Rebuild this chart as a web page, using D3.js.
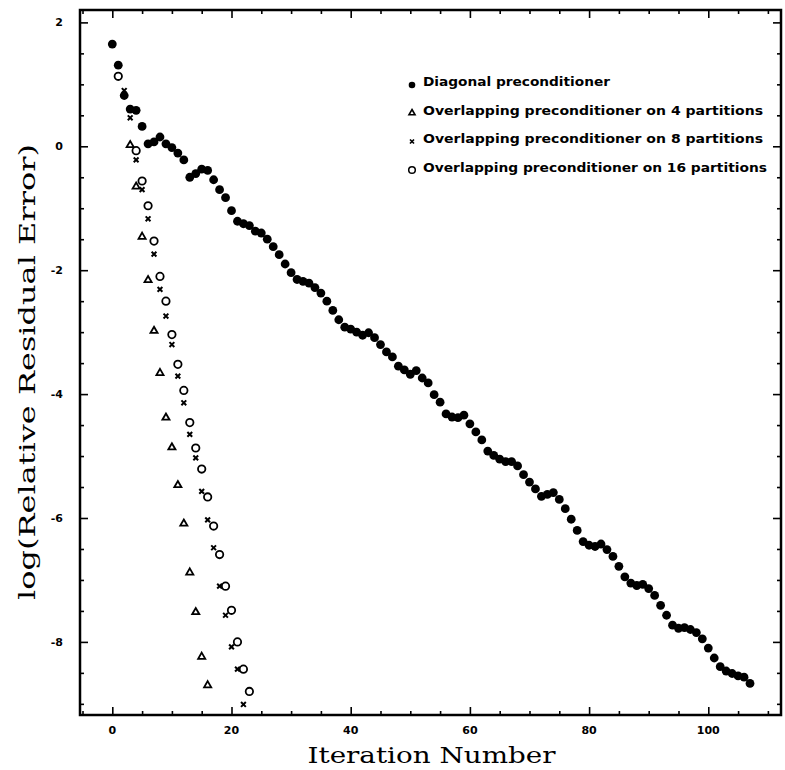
<!DOCTYPE html>
<html lang="en">
<head>
  <meta charset="utf-8">
  <title>Residual error</title>
  <script type="text/javascript" src="https://d3js.org/d3.v7.min.js"></script>
  <style type="text/css">
    body { margin: 0; background: #fff; overflow: hidden; }
    svg { display: block; }
    .tickLabel { font-family: "DejaVu Sans", sans-serif; font-weight: bold; font-size: 11px; }
    .axisTitle { font-family: "DejaVu Serif", serif; font-size: 23px; }
    .legendText { font-family: "DejaVu Sans", sans-serif; font-weight: bold; font-size: 13px; }
    .axis path { display: none; }
    .axis line { stroke: #000; stroke-width: 1.6; }
  </style>
</head>
<body>
  <script type="text/javascript">
  // values indexed by iteration number (0, 1, 2, ...); null = hidden under a diagonal dot
  var diagonal = [1.65, 1.31, 0.82, 0.60, 0.58, 0.32, 0.04, 0.07, 0.15, 0.04,
    -0.02, -0.11, -0.22, -0.50, -0.44, -0.37, -0.39, -0.54, -0.70, -0.83,
    -1.04, -1.21, -1.25, -1.28, -1.37, -1.40, -1.50, -1.62, -1.75, -1.90,
    -2.04, -2.15, -2.18, -2.21, -2.28, -2.37, -2.50, -2.65, -2.80, -2.92,
    -2.95, -3.00, -3.05, -3.01, -3.09, -3.20, -3.32, -3.40, -3.55, -3.61,
    -3.68, -3.62, -3.74, -3.82, -4.01, -4.13, -4.32, -4.37, -4.38, -4.34,
    -4.48, -4.61, -4.74, -4.92, -4.99, -5.05, -5.09, -5.09, -5.16, -5.30,
    -5.42, -5.53, -5.65, -5.62, -5.59, -5.70, -5.85, -6.02, -6.20, -6.38,
    -6.44, -6.46, -6.42, -6.51, -6.62, -6.78, -6.95, -7.05, -7.09, -7.07,
    -7.14, -7.25, -7.41, -7.57, -7.73, -7.78, -7.77, -7.80, -7.85, -7.95,
    -8.10, -8.26, -8.40, -8.47, -8.51, -8.55, -8.57, -8.67];
  var overlap4 = [null, null, null, 0.02, -0.65, -1.46, -2.16, -2.98, -3.66, -4.38,
    -4.86, -5.47, -6.09, -6.88, -7.52, -8.24, -8.70];
  var overlap8 = [null, null, 0.90, 0.46, -0.22, -0.70, -1.17, -1.74, -2.31, -2.74,
    -3.20, -3.71, -4.14, -4.65, -5.03, -5.57, -6.03, -6.48, -7.10, -7.57,
    -8.08, -8.44, -9.01];
  var overlap16 = [null, 1.13, null, null, -0.07, -0.56, -0.96, -1.53, -2.10, -2.50,
    -3.04, -3.52, -3.94, -4.46, -4.87, -5.21, -5.66, -6.13, -6.59, -7.10,
    -7.49, -8.00, -8.44, -8.80];

  var legendLabels = ["Diagonal preconditioner",
    "Overlapping preconditioner on 4 partitions",
    "Overlapping preconditioner on 8 partitions",
    "Overlapping preconditioner on 16 partitions"];
  var legendWidths = [187, 340, 340, 344];
  var xTicks = [0, 20, 40, 60, 80, 100];
  var yTicks = [2, 0, -2, -4, -6, -8];

  var w = 785, h = 770;
  var plotLeft = 80, plotRight = 781, plotTop = 10, plotBottom = 715;

  var svg = d3.select("body").append("svg")
    .attr("width", w).attr("height", h);

  var xScale = d3.scaleLinear().domain([-5.42, 112.2]).range([plotLeft, plotRight]);
  var yScale = d3.scaleLinear().domain([-9.18, 2.2]).range([plotBottom, plotTop]);

  var xMinor = d3.range(-5, 113, 5).filter(function(v) { return v % 20 != 0; });
  var yMinor = d3.range(-9, 2.01, 0.5).filter(function(v) { return v % 2 != 0; });

  // pairs of [iteration, value], skipping hidden points
  function points(arr) {
    return arr.map(function(v, i) { return [i, v]; })
              .filter(function(p) { return p[1] !== null; });
  }

  // ticks on all four sides, pointing inward
  function addAxis(axisFn, scale, values, size, tx, ty) {
    svg.append("g").attr("class", "axis")
      .attr("transform", "translate(" + tx + "," + ty + ")")
      .call(axisFn(scale).tickValues(values).tickSize(size).tickFormat(""));
  }
  addAxis(d3.axisBottom, xScale, xTicks, -8, 0, plotBottom);
  addAxis(d3.axisBottom, xScale, xMinor, -4, 0, plotBottom);
  addAxis(d3.axisTop, xScale, xTicks, -8, 0, plotTop);
  addAxis(d3.axisTop, xScale, xMinor, -4, 0, plotTop);
  addAxis(d3.axisLeft, yScale, yTicks, -8, plotLeft, 0);
  addAxis(d3.axisLeft, yScale, yMinor, -4, plotLeft, 0);
  addAxis(d3.axisRight, yScale, yTicks, -8, plotRight, 0);
  addAxis(d3.axisRight, yScale, yMinor, -4, plotRight, 0);

  svg.append("rect")
    .attr("x", plotLeft).attr("y", plotTop)
    .attr("width", plotRight - plotLeft).attr("height", plotBottom - plotTop)
    .attr("fill", "none").attr("stroke", "#000").attr("stroke-width", 2.5);

  svg.selectAll(".xLabel").data(xTicks).enter().append("text")
    .attr("class", "tickLabel")
    .attr("x", function(d) { return xScale(d); })
    .attr("y", plotBottom + 19)
    .attr("text-anchor", "middle")
    .text(function(d) { return d; });

  svg.selectAll(".yLabel").data(yTicks).enter().append("text")
    .attr("class", "tickLabel")
    .attr("x", plotLeft - 17)
    .attr("y", function(d) { return yScale(d) + 4; })
    .attr("text-anchor", "end")
    .text(function(d) { return d; });

  svg.append("text").attr("class", "axisTitle")
    .attr("x", (plotLeft + plotRight) / 2 + 1).attr("y", 763)
    .attr("text-anchor", "middle")
    .attr("textLength", 248).attr("lengthAdjust", "spacingAndGlyphs")
    .text("Iteration Number");

  svg.append("text").attr("class", "axisTitle")
    .attr("transform", "translate(35,372) rotate(-90)")
    .attr("text-anchor", "middle")
    .attr("textLength", 456).attr("lengthAdjust", "spacingAndGlyphs")
    .text("log(Relative Residual Error)");

  // marker drawers
  var tri = d3.symbol().type(d3.symbolTriangle);
  function place(p) { return "translate(" + xScale(p[0]) + "," + yScale(p[1]) + ")"; }

  svg.append("g").selectAll("path").data(points(overlap4)).enter().append("path")
    .attr("transform", place)
    .attr("d", tri.size(22)())
    .attr("fill", "none").attr("stroke", "#000").attr("stroke-width", 1.8);

  var cr = 2.4;
  svg.append("g").selectAll("path").data(points(overlap8)).enter().append("path")
    .attr("transform", place)
    .attr("d", "M" + (-cr) + "," + (-cr) + "L" + cr + "," + cr + "M" + (-cr) + "," + cr + "L" + cr + "," + (-cr))
    .attr("stroke", "#000").attr("stroke-width", 2);

  svg.append("g").selectAll("circle").data(points(overlap16)).enter().append("circle")
    .attr("cx", function(p) { return xScale(p[0]); })
    .attr("cy", function(p) { return yScale(p[1]); })
    .attr("r", 3.7)
    .attr("fill", "none").attr("stroke", "#000").attr("stroke-width", 1.8);

  svg.append("g").selectAll("circle").data(points(diagonal)).enter().append("circle")
    .attr("cx", function(p) { return xScale(p[0]); })
    .attr("cy", function(p) { return yScale(p[1]); })
    .attr("r", 4.4)
    .attr("fill", "#000");

  // legend
  var legendX = 412, legendY = [86, 114.5, 143, 171.5];
  var legend = svg.append("g");
  legend.selectAll("text").data(legendLabels).enter().append("text")
    .attr("class", "legendText")
    .attr("x", legendX + 11)
    .attr("y", function(d, i) { return legendY[i]; })
    .attr("textLength", function(d, i) { return legendWidths[i]; })
    .attr("lengthAdjust", "spacingAndGlyphs")
    .text(function(d) { return d; });

  legend.append("circle").attr("cx", legendX).attr("cy", legendY[0] - 1).attr("r", 3.3).attr("fill", "#000");
  legend.append("path")
    .attr("transform", "translate(" + legendX + "," + (legendY[1] - 1.5) + ")")
    .attr("d", tri.size(16)())
    .attr("fill", "none").attr("stroke", "#000").attr("stroke-width", 1.6);
  legend.append("path")
    .attr("transform", "translate(" + legendX + "," + (legendY[2] - 1.5) + ")")
    .attr("d", "M-2,-2L2,2M-2,2L2,-2")
    .attr("stroke", "#000").attr("stroke-width", 1.7);
  legend.append("circle").attr("cx", legendX).attr("cy", legendY[3] - 1.5).attr("r", 3.3)
    .attr("fill", "none").attr("stroke", "#000").attr("stroke-width", 1.5);
  </script>
</body>
</html>
